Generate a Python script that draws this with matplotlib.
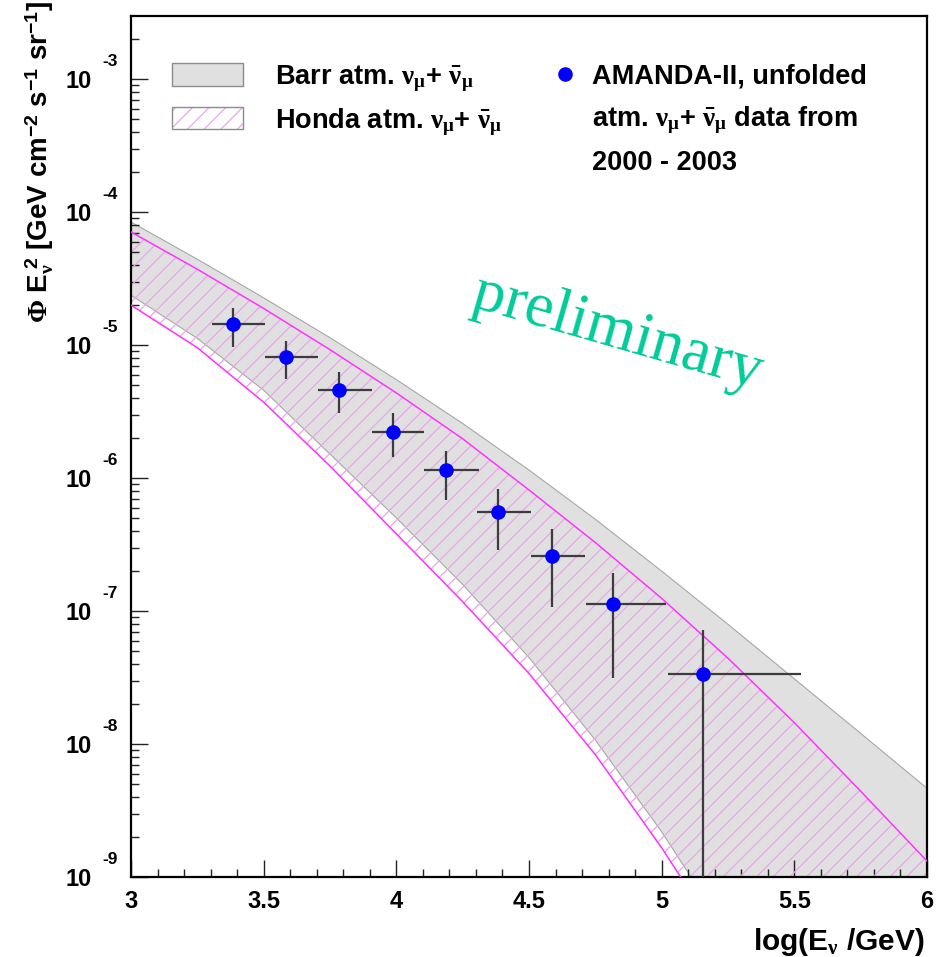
import numpy as np
import matplotlib
matplotlib.use("Agg")
import matplotlib.pyplot as plt
import matplotlib.transforms as mtransforms
from matplotlib.patches import Patch
from matplotlib.lines import Line2D
from matplotlib.legend_handler import HandlerTuple
from matplotlib.ticker import FixedLocator, FormatStrFormatter

plt.rcParams['font.family'] = ['Liberation Sans', 'DejaVu Sans']
plt.rcParams['font.weight'] = 'bold'
plt.rcParams['mathtext.fontset'] = 'custom'
plt.rcParams['mathtext.rm'] = 'Liberation Serif'
plt.rcParams['mathtext.it'] = 'Liberation Serif:italic'
plt.rcParams['mathtext.bf'] = 'Liberation Sans:bold'
plt.rcParams['hatch.linewidth'] = 0.9

# ---- model bands (log10 of flux) ----
band_x = [3.0, 3.25, 3.5, 3.75, 4.0, 4.25, 4.5, 4.75, 5.0, 5.25, 5.5, 5.75, 6.0]
log_barr_hi = [-4.075, -4.355, -4.645, -4.945, -5.26, -5.59, -5.94, -6.31, -6.70, -7.10, -7.51, -7.92, -8.333]
log_barr_lo = [-4.625, -4.95, -5.34, -5.82, -6.30, -6.80, -7.35, -7.97, -8.66, -9.43, -10.2, -11.0, -11.8]
log_honda_hi = [-4.15, -4.43, -4.725, -5.035, -5.36, -5.705, -6.09, -6.485, -6.905, -7.355, -7.84, -8.355, -8.88]
log_honda_lo = [-4.70, -5.02, -5.43, -5.91, -6.42, -6.93, -7.47, -8.08, -8.78, -9.55, -10.4, -11.2, -12.0]

# ---- AMANDA-II unfolded data ----
data_x = [3.385, 3.583, 3.785, 3.986, 4.187, 4.385, 4.586, 4.818, 5.157]
data_xlo = [3.307, 3.505, 3.706, 3.907, 4.105, 4.304, 4.508, 4.715, 5.025]
data_xhi = [3.505, 3.706, 3.907, 4.105, 4.310, 4.508, 4.711, 5.015, 5.525]
log_data_y = [-4.842, -5.088, -5.338, -5.652, -5.940, -6.258, -6.586, -6.947, -7.476]
log_data_yhi = [-4.720, -4.968, -5.203, -5.514, -5.795, -6.083, -6.383, -6.717, -7.143]
log_data_ylo = [-5.015, -5.258, -5.509, -5.844, -6.165, -6.541, -6.972, -7.501, -10.0]

x_major = [3, 3.5, 4, 4.5, 5, 5.5, 6]
y_decades = [-9, -8, -7, -6, -5, -4, -3]

W, H = 944, 957
fig = plt.figure(figsize=(W / 100, H / 100), dpi=100)
ax = fig.add_axes([131 / W, 1 - 877 / H, (927 - 131) / W, (877 - 16) / H])

bx = np.array(band_x)
p = lambda v: 10.0 ** np.array(v)

HATCH_COL = '#e9a6e9'
MAG = '#ff33ff'

# Barr band
ax.fill_between(bx, p(log_barr_lo), p(log_barr_hi), facecolor='#e0e0e0',
                edgecolor='#a8a8a8', linewidth=0.8, zorder=1)
# Honda band hatched
ax.fill_between(bx, p(log_honda_lo), p(log_honda_hi), facecolor='none',
                edgecolor=HATCH_COL, linewidth=0, hatch='//', zorder=2)
ax.plot(bx, p(log_honda_hi), color=MAG, lw=1.1, zorder=3)
ax.plot(bx, p(log_honda_lo), color=MAG, lw=1.1, zorder=3)

# data
dx = np.array(data_x)
dy = p(log_data_y)
xerr = [dx - np.array(data_xlo), np.array(data_xhi) - dx]
yerr = [dy - p(log_data_ylo), p(log_data_yhi) - dy]
ax.errorbar(dx, dy, xerr=xerr, yerr=yerr, fmt='o', color='#0000ff',
            ecolor='#3c3c3c', elinewidth=1.6, capsize=0, markersize=10.5,
            markeredgewidth=0, zorder=5)

ax.set_yscale('log')
ax.set_xlim(3, 6)
ax.set_ylim(1e-9, 10 ** -2.526)

# ticks
ax.xaxis.set_major_locator(FixedLocator(x_major))
ax.xaxis.set_minor_locator(FixedLocator(np.arange(3.0, 6.01, 0.1)))
ax.xaxis.set_major_formatter(FormatStrFormatter('%g'))
ax.tick_params(axis='both', which='both', direction='in', top=False, right=False, color='#222222')
ax.tick_params(axis='x', which='major', length=12, width=1.0, labelsize=17, pad=9)
ax.tick_params(axis='x', which='minor', length=6, width=1.0)
ax.tick_params(axis='y', which='major', length=12, width=1.0)
ax.tick_params(axis='y', which='minor', length=6, width=1.0)
ax.yaxis.set_major_locator(FixedLocator([10.0 ** d for d in y_decades]))
ax.yaxis.set_minor_locator(matplotlib.ticker.LogLocator(base=10, subs=np.arange(2, 10)))
ax.yaxis.set_major_formatter(matplotlib.ticker.NullFormatter())
ax.yaxis.set_minor_formatter(matplotlib.ticker.NullFormatter())
for sp in ax.spines.values():
    sp.set_linewidth(1.6)
    sp.set_color('black')

# y tick labels, ROOT style
ytr = ax.get_yaxis_transform()
ytr_lo = mtransforms.offset_copy(ytr, fig=fig, y=-2.0, units='dots')
ytr_hi = mtransforms.offset_copy(ytr, fig=fig, y=18.0, units='dots')
for d in y_decades:
    ax.text((92 - 131) / 796, 10.0 ** d, '10', transform=ytr_lo, ha='right',
            va='center', fontsize=17, fontweight='bold', clip_on=False)
    ax.text((102 - 131) / 796, 10.0 ** d, '%d' % d, transform=ytr_hi, ha='left',
            va='center', fontsize=12.5, fontweight='bold', clip_on=False)

# axis labels
fig.text(925 / W, 1 - 950 / H, r'log(E$_{\mathrm{\nu}}$ /GeV)', ha='right', va='baseline',
         fontsize=21.5, fontweight='bold')
fig.text(40 / W, 0.999, r'$\mathrm{\Phi}$ $\mathbf{E}_{\mathrm{\nu}}^{\ \mathbf{2}}$ [GeV cm$^{\mathbf{-2}}$ s$^{\mathbf{-1}}$ sr$^{\mathbf{-1}}$]',
         rotation=90, ha='center', va='top', fontsize=20, fontweight='bold')

# preliminary
fig.text(617 / W, 1 - 333 / H, 'preliminary', rotation=-16, ha='center', va='center',
         fontsize=46, color='#00cc99', family='Liberation Serif', fontweight='normal')

# legends
nu = r'$\mathrm{\nu_{\mu}}$+ $\mathrm{\bar{\nu}_{\mu}}$'
fs = 19.5
em = fs * 100 / 72.0
h_barr = Patch(facecolor='#e0e0e0', edgecolor='#8c8c8c', linewidth=1.0)
h_honda_hatch = Patch(facecolor='white', edgecolor=HATCH_COL, linewidth=0, hatch='//')
h_honda_edge = Patch(facecolor='none', edgecolor='#8c8c8c', linewidth=1.0)
leg1 = ax.legend([h_barr, (h_honda_hatch, h_honda_edge)],
                 ['Barr atm. ' + nu, 'Honda atm. ' + nu],
                 handler_map={tuple: HandlerTuple(ndivide=1, pad=0)},
                 loc='upper left', bbox_to_anchor=(172 / W, 1 - 63 / H),
                 bbox_transform=fig.transFigure, frameon=False, fontsize=fs,
                 handlelength=71 / em, handleheight=24 / em, handletextpad=32 / em,
                 labelspacing=0.45, borderpad=0, borderaxespad=0)
ax.add_artist(leg1)

h_dot = Line2D([], [], linestyle='none', marker='o', color='#0000ff', markersize=10.5, markeredgewidth=0)
h_none = Line2D([], [], linestyle='none', marker='')
leg2 = ax.legend([h_dot, h_none, h_none],
                 ['AMANDA-II, unfolded', 'atm. ' + nu + ' data from', '2000 - 2003'],
                 loc='upper left', bbox_to_anchor=(553 / W, 1 - 63 / H),
                 bbox_transform=fig.transFigure, frameon=False, fontsize=fs,
                 handlelength=24 / em, handletextpad=15 / em, labelspacing=0.55,
                 borderpad=0, borderaxespad=0)

fig.savefig('out.png', dpi=100)
